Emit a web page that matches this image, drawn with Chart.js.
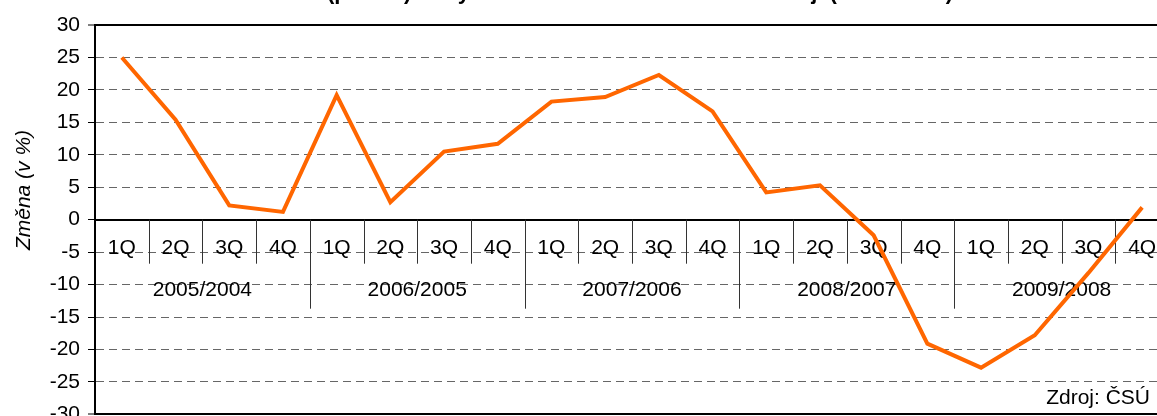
<!DOCTYPE html>
<html>
<head>
<meta charset="utf-8">
<script src="https://cdn.jsdelivr.net/npm/chart.js@4"></script>
<style>
html, body { margin: 0; padding: 0; background: #fff; overflow: hidden; }
#wrap { width: 1180px; height: 435px; }
</style>
</head>
<body>
<div id="wrap"><canvas id="myChart" width="1180" height="435"></canvas></div>
<script>
// data
var quarters = ['1Q', '2Q', '3Q', '4Q', '1Q', '2Q', '3Q', '4Q', '1Q', '2Q', '3Q', '4Q',
                '1Q', '2Q', '3Q', '4Q', '1Q', '2Q', '3Q', '4Q'];
var years = ['2005/2004', '2006/2005', '2007/2006', '2008/2007', '2009/2008'];
var zmena = [25.0, 15.4, 2.2, 1.2, 19.2, 2.7, 10.5, 11.7, 18.2, 18.9, 22.3, 16.7,
             4.2, 5.3, -2.4, -19.1, -22.8, -17.8, -8.2, 1.9];
var yMin = -30, yMax = 30, yStep = 5;
var titleText = 'Změna (pokles) tržby ve stavebnictví v Plzeňském kraji (meziročně)';
var titleLead = 'Změna ';
var yTitle = 'Změna (v %)';
var sourceText = 'Zdroj: ČSÚ';

var FONT = '"Liberation Sans", Arial, sans-serif';

// separators under the quarter labels, year labels and extra texts
var decor = {
    id: 'decor',
    beforeDatasetsDraw: function (chart) {
        var ctx = chart.ctx;
        var xs = chart.scales.x;
        var ys = chart.scales.y;
        var y0 = ys.getPixelForValue(0);
        var half = (xs.getPixelForValue(1) - xs.getPixelForValue(0)) / 2;

        ctx.save();
        ctx.strokeStyle = '#333';
        ctx.lineWidth = 1;
        for (var i = 1; i <= quarters.length; i++) {
            var bx = Math.round(xs.getPixelForValue(i - 1) + half) + 0.5;
            var len = (i % 4 === 0) ? 89 : 44;
            ctx.beginPath();
            ctx.moveTo(bx, y0);
            ctx.lineTo(bx, y0 + len);
            ctx.stroke();
        }

        ctx.fillStyle = '#000';
        ctx.font = '21px ' + FONT;
        ctx.textAlign = 'center';
        ctx.textBaseline = 'middle';
        years.forEach(function (yr, k) {
            var cx = (xs.getPixelForValue(k * 4) + xs.getPixelForValue(k * 4 + 3)) / 2;
            ctx.fillText(yr, cx, y0 + 71);
        });

        // source note
        ctx.textAlign = 'right';
        ctx.textBaseline = 'alphabetic';
        ctx.fillText(sourceText, 1150, ys.getPixelForValue(-28.4));

        // y axis title
        ctx.save();
        ctx.translate(30, 190);
        ctx.rotate(-Math.PI / 2);
        ctx.font = 'italic 21px ' + FONT;
        ctx.textAlign = 'center';
        ctx.textBaseline = 'alphabetic';
        ctx.fillText(yTitle, 0, 0);
        ctx.restore();

        // title, mostly outside the picture
        ctx.font = 'bold 22px ' + FONT;
        ctx.textAlign = 'left';
        ctx.textBaseline = 'alphabetic';
        var tx = 327 - ctx.measureText(titleLead).width;
        ctx.fillText(titleText, tx, -1);
        ctx.restore();
    }
};

var ctx = document.getElementById('myChart').getContext('2d');
var chart = new Chart(ctx, {
    type: 'line',
    data: {
        labels: quarters,
        datasets: [{
            label: 'Změna',
            data: zmena,
            borderColor: '#ff6600',
            borderWidth: 4,
            pointRadius: 0,
            tension: 0,
            fill: false
        }]
    },
    options: {
        responsive: false,
        animation: false,
        devicePixelRatio: 1,
        layout: { padding: { top: 25, right: 11, bottom: 14, left: 0 } },
        plugins: {
            legend: { display: false },
            tooltip: { enabled: false },
            title: { display: false }
        },
        scales: {
            x: {
                type: 'category',
                position: { y: 0 },
                offset: true,
                grid: { display: true, drawOnChartArea: false, drawTicks: false, color: 'transparent' },
                border: { display: true, color: '#000', width: 2 },
                ticks: {
                    color: '#000',
                    font: { size: 21, family: FONT },
                    padding: 16,
                    maxRotation: 0,
                    autoSkip: false
                }
            },
            y: {
                min: yMin,
                max: yMax,
                afterFit: function (scale) { scale.width = 95; },
                grid: {
                    color: function (c) {
                        var v = c.tick ? c.tick.value : 0;
                        return (v === yMin || v === yMax) ? '#000' : '#666';
                    },
                    lineWidth: function (c) {
                        var v = c.tick ? c.tick.value : 0;
                        return (v === yMin || v === yMax) ? 2 : 1;
                    },
                    tickColor: '#000',
                    tickLength: 7,
                    tickWidth: 1
                },
                border: {
                    display: true,
                    color: '#000',
                    width: 2,
                    dash: function (c) {
                        var v = c.tick ? c.tick.value : null;
                        return (v === yMin || v === yMax) ? [] : [8, 5];
                    }
                },
                ticks: {
                    stepSize: yStep,
                    color: '#000',
                    padding: 8,
                    font: { size: 21, family: FONT }
                }
            }
        }
    },
    plugins: [decor]
});
</script>
</body>
</html>
